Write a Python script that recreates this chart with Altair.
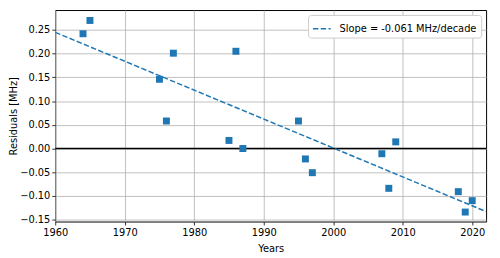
import altair as alt
import pandas as pd

years = [1964, 1965, 1975, 1976, 1977, 1985, 1986, 1987, 1995, 1996, 1997,
         2007, 2008, 2009, 2018, 2019, 2020]
residuals = [0.242, 0.270, 0.146, 0.058, 0.201, 0.017, 0.205, 0.000, 0.058, -0.022, -0.051,
             -0.011, -0.084, 0.014, -0.091, -0.134, -0.110]

fit_years = [1960, 2022]
fit_values = [0.245, -0.133]
fit_label = "Slope = -0.061 MHz/decade"

zero_years = [1960, 2022]
zero_values = [0.0, 0.0]

x_ticks = [1960, 1970, 1980, 1990, 2000, 2010, 2020]
y_ticks = [-0.15, -0.10, -0.05, 0.0, 0.05, 0.10, 0.15, 0.20, 0.25]

pts = pd.DataFrame({"year": years, "res": residuals})
fit = pd.DataFrame({"year": fit_years, "res": fit_values, "label": [fit_label] * 2})
zero = pd.DataFrame({"year": zero_years, "res": zero_values})

xscale = alt.Scale(domain=[1960, 2022], nice=False, zero=False)
yscale = alt.Scale(domain=[-0.154, 0.292], nice=False, zero=False)


def xaxis():
    return alt.Axis(title="Years", values=x_ticks, format="d",
                    labelOverlap=False, labelFlush=False, labelBound=False)


def yaxis():
    return alt.Axis(title="Residuals [MHz]", values=y_ticks, format=".2f",
                    labelOverlap=False, labelFlush=False, labelBound=False)


zero_line = alt.Chart(zero).mark_line(color="black", strokeWidth=1.5, clip=True).encode(
    x=alt.X("year:Q", scale=xscale, axis=xaxis()),
    y=alt.Y("res:Q", scale=yscale, axis=yaxis()),
)

fit_line = alt.Chart(fit).mark_line(strokeWidth=1.5, clip=True).encode(
    x=alt.X("year:Q", scale=xscale, axis=xaxis()),
    y=alt.Y("res:Q", scale=yscale, axis=yaxis()),
    color=alt.Color("label:N", scale=alt.Scale(domain=[fit_label], range=["#1f77b4"]),
                    legend=alt.Legend(title=None, orient="top-right", symbolType="stroke",
                                      symbolStrokeWidth=1.5, symbolSize=324,
                                      fillColor="white", strokeColor="#cccccc",
                                      cornerRadius=3, padding=4, offset=5,
                                      labelFontSize=10, labelFont="DejaVu Sans",
                                      labelColor="black", labelOffset=8)),
    strokeDash=alt.StrokeDash("label:N", scale=alt.Scale(domain=[fit_label], range=[[5.5, 2.4]]),
                              legend=alt.Legend(title=None, orient="top-right")),
)

points = alt.Chart(pts).mark_point(shape="square", filled=True, size=50, opacity=1,
                                   color="#1f77b4").encode(
    x=alt.X("year:Q", scale=xscale, axis=xaxis()),
    y=alt.Y("res:Q", scale=yscale, axis=yaxis()),
)

chart = alt.layer(zero_line, fit_line, points).properties(
    width=438, height=215,
    autosize=alt.AutoSizeParams(type="none"),
    padding={"left": 48, "top": 0, "right": 6, "bottom": 35},
).configure_view(
    stroke="black", strokeWidth=1,
).configure_axis(
    grid=True, gridColor="#b0b0b0", gridWidth=0.8,
    domain=False, tickColor="black", tickSize=3.5, tickWidth=0.8,
    labelFont="DejaVu Sans", labelFontSize=10, labelColor="black",
    titleFont="DejaVu Sans", titleFontSize=10, titleColor="black", titleFontWeight="normal",
    labelPadding=2,
).configure_axisY(
    titlePadding=1,
).configure_axisX(
    labelPadding=3,
    titlePadding=6,
)

chart.save("out.html", embed_options={"renderer": "svg", "actions": False})
